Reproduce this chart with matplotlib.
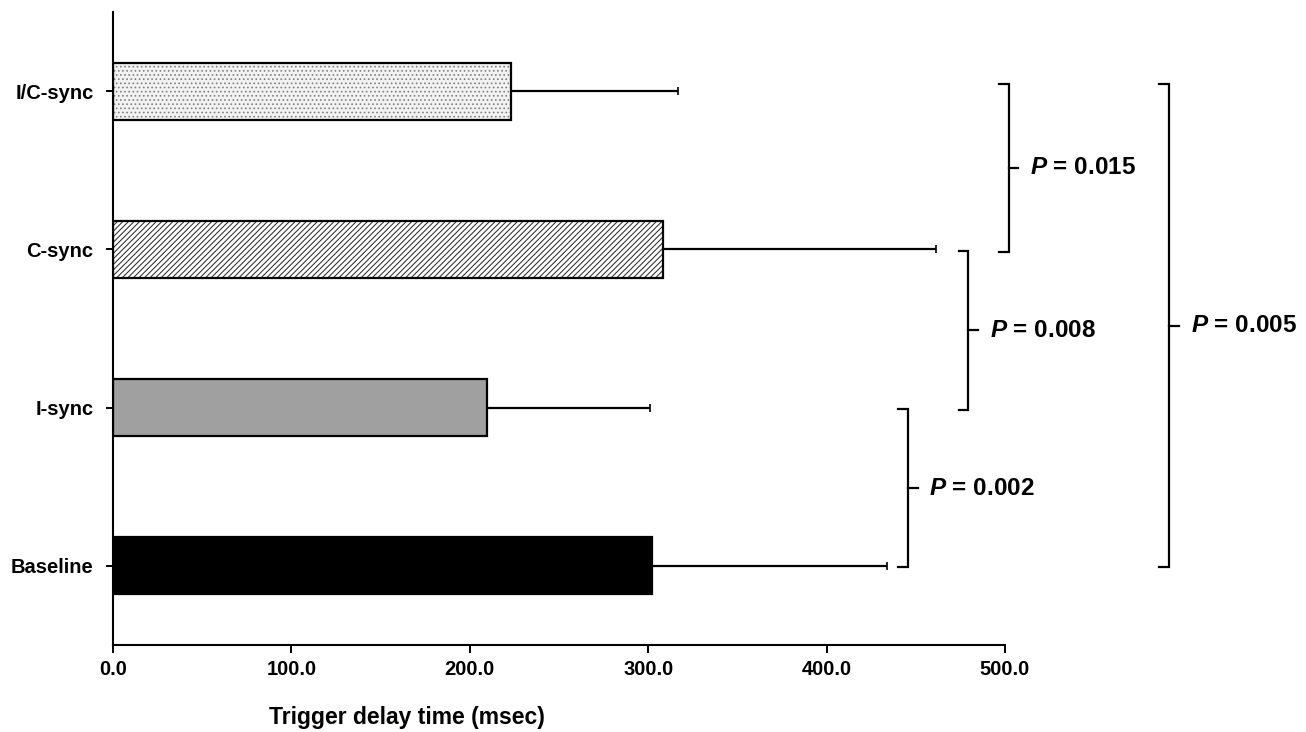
import matplotlib
matplotlib.use('Agg')
import matplotlib.pyplot as plt
from matplotlib import font_manager

names = [f.name for f in font_manager.fontManager.ttflist]
narrow = 'Liberation Sans Narrow' if 'Liberation Sans Narrow' in names else 'Liberation Sans'
plt.rcParams['font.family'] = [narrow, 'DejaVu Sans']
plt.rcParams['mathtext.fontset'] = 'custom'
plt.rcParams['mathtext.it'] = 'Liberation Sans:bold:italic'
plt.rcParams['hatch.linewidth'] = 0.7

# data (bottom to top)
groups = ['Baseline', 'I-sync', 'C-sync', 'I/C-sync']
delay = [302.0, 209.5, 308.5, 223.0]
delay_sd = [132.0, 91.5, 153.0, 93.5]

# comparisons: (lower group, upper group, p text)
pairs = [(0, 1, '0.002'), (1, 2, '0.008'), (2, 3, '0.015'), (0, 3, '0.005')]
bracket_x = [445.5, 479.5, 502.0, 592.0]

faces = ['black', '#a0a0a0', 'white', '#f2f2f2']
hatches = [None, None, '//////', '....']
hatch_col = ['black', 'black', '#202020', '#808080']

fig = plt.figure(figsize=(13.06, 7.32), dpi=100)
ax = fig.add_axes([0.0865, 0.1189, 0.683, 0.8647])

ypos = list(range(len(groups)))
for i in ypos:
    ax.barh(ypos[i], delay[i], height=0.36, color=faces[i], edgecolor=hatch_col[i],
            linewidth=0, hatch=hatches[i], zorder=2)
    ax.barh(ypos[i], delay[i], height=0.36, fill=False, edgecolor='black',
            linewidth=1.6, zorder=3)
ax.errorbar(delay, ypos, xerr=[[0] * 4, delay_sd], fmt='none', ecolor='black',
            elinewidth=1.6, capsize=3, capthick=1.2, zorder=1)

ax.set_xlim(0, 500)
ax.set_ylim(-0.5, 3.5)
ax.set_xticks([0, 100, 200, 300, 400, 500])
ax.set_xticklabels(['%.1f' % v for v in [0, 100, 200, 300, 400, 500]],
                   fontsize=14.5, fontweight='bold')
ax.set_yticks(ypos)
ax.set_yticklabels(groups, fontsize=14.5, fontweight='bold')
ax.tick_params(axis='x', length=6, width=1.4, pad=5)
ax.tick_params(axis='y', length=5, width=1.4, pad=9)
for s in ['top', 'right']:
    ax.spines[s].set_visible(False)
for s in ['left', 'bottom']:
    ax.spines[s].set_linewidth(1.5)
ax.set_xlabel('Trigger delay time (msec)', fontsize=16.5, fontweight='bold')
ax.xaxis.set_label_coords(0.33, -0.114)
ax.xaxis.label.set_va('center')

# significance brackets
for (lo, hi, p), bx in zip(pairs, bracket_x):
    y0 = lo - 0.01 if lo == 0 else lo - 0.015
    y1 = hi + 0.045 if hi == 3 else hi - 0.01
    ax.plot([bx - 5.5, bx, bx, bx - 5.5], [y1, y1, y0, y0], color='black',
            lw=1.6, clip_on=False, solid_joinstyle='miter')
    ym = (y0 + y1) / 2
    ax.plot([bx, bx + 5.5], [ym, ym], color='black', lw=1.6, clip_on=False)
    ax.text(bx + 12, ym, '$P$ = ' + p, fontsize=17.5, fontweight='bold',
            va='center', ha='left', clip_on=False)

fig.savefig('out.png', dpi=100)
